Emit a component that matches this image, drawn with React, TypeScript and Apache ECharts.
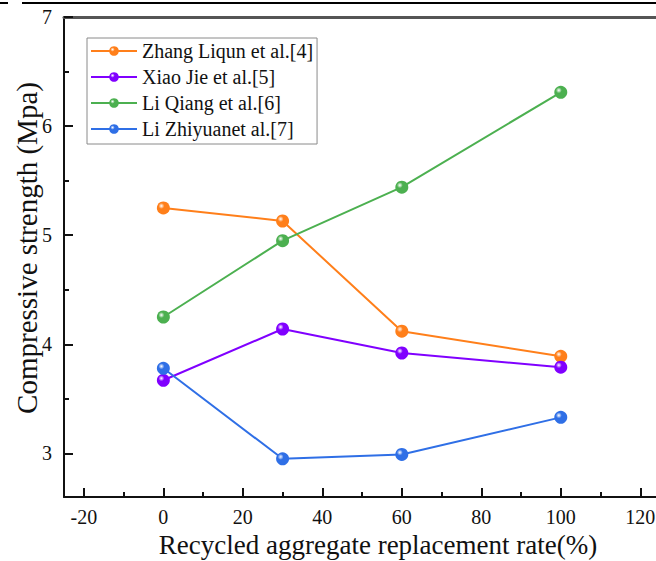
import React, { useEffect, useRef } from "react";
import * as echarts from "echarts";

const xValues = [0, 30, 60, 100];
const seriesNames = [
  "Zhang Liqun et al.[4]",
  "Xiao Jie et al.[5]",
  "Li Qiang et al.[6]",
  "Li Zhiyuanet al.[7]",
];
const zhangValues = [5.25, 5.13, 4.12, 3.89];
const xiaoValues = [3.67, 4.14, 3.92, 3.79];
const qiangValues = [4.25, 4.95, 5.44, 6.31];
const zhiyuanValues = [3.78, 2.95, 2.99, 3.33];
const seriesColors = ["#FF7F1A", "#8000FF", "#4CB050", "#2F6FE6"];

const xMajorTicks = [-20, 0, 20, 40, 60, 80, 100, 120];
const xMinorTicks = [-10, 10, 30, 50, 70, 90, 110];
const yMajorTicks = [3, 4, 5, 6, 7];
const yMinorTicks = [3.5, 4.5, 5.5, 6.5];

const xTitle = "Recycled aggregate replacement rate(%)";
const yTitle = "Compressive strength (Mpa)";

const FONT = "Liberation Serif, Times New Roman, serif";

export default function App() {
  const ref = useRef<HTMLDivElement>(null);
  useEffect(() => {
    if (!ref.current) return;
    const chart = echarts.init(ref.current, undefined, { renderer: "svg" });
    const allValues = [zhangValues, xiaoValues, qiangValues, zhiyuanValues];
    const series = allValues.map((vals, i) => ({
      name: seriesNames[i],
      type: "line",
      xAxisIndex: 0,
      yAxisIndex: 0,
      data: vals.map((v, j) => [xValues[j], v]),
      symbol: "circle",
      symbolSize: 13,
      lineStyle: { width: 2, color: seriesColors[i] },
      itemStyle: {
        color: {
          type: "radial",
          x: 0.35,
          y: 0.35,
          r: 0.75,
          colorStops: [
            { offset: 0, color: "rgba(255,255,255,0.9)" },
            { offset: 0.3, color: seriesColors[i] },
            { offset: 1, color: seriesColors[i] },
          ],
        },
      },
    }));
    chart.setOption({
      animation: false,
      backgroundColor: "#fff",
      textStyle: { fontFamily: FONT },
      grid: { left: 64, top: 17, bottom: 64, width: 616, containLabel: false, outerBoundsMode: "none" },
      legend: {
        orient: "vertical",
        left: 87,
        top: 38,
        itemWidth: 46,
        itemHeight: 12,
        itemGap: 6,
        padding: [3, 4, 5, 3],
        borderColor: "#8a8a8a",
        borderWidth: 1,
        textStyle: { fontFamily: FONT, fontSize: 20, color: "#111", lineHeight: 20 },
        data: seriesNames,
      },
      xAxis: [
        {
          type: "value",
          position: "bottom",
          min: -25,
          max: 130,
          axisLine: { show: true, onZero: false, lineStyle: { color: "#111", width: 2 } },
          axisTick: { show: true, inside: true, length: 9, lineStyle: { color: "#111", width: 2 }, customValues: xMajorTicks },
          axisLabel: { fontFamily: FONT, fontSize: 20, color: "#111", margin: 10, customValues: xMajorTicks },
          splitLine: { show: false },
        },
        {
          type: "value",
          position: "bottom",
          min: -25,
          max: 130,
          axisLine: { show: false, onZero: false },
          axisTick: { show: true, inside: true, length: 5, lineStyle: { color: "#111", width: 2 }, customValues: xMinorTicks },
          axisLabel: { show: false },
          splitLine: { show: false },
        },
        {
          type: "value",
          position: "top",
          min: -25,
          max: 130,
          axisLine: { show: true, onZero: false, lineStyle: { color: "#555", width: 3 } },
          axisTick: { show: false },
          axisLabel: { show: false },
          splitLine: { show: false },
        },
      ],
      yAxis: [
        {
          type: "value",
          position: "left",
          min: 2.6,
          max: 7,
          axisLine: { show: true, onZero: false, lineStyle: { color: "#111", width: 2 } },
          axisTick: { show: true, inside: true, length: 9, lineStyle: { color: "#111", width: 2 }, customValues: yMajorTicks },
          axisLabel: { fontFamily: FONT, fontSize: 20, color: "#111", margin: 12, customValues: yMajorTicks },
          splitLine: { show: false },
        },
        {
          type: "value",
          position: "left",
          min: 2.6,
          max: 7,
          axisLine: { show: false, onZero: false },
          axisTick: { show: true, inside: true, length: 5, lineStyle: { color: "#111", width: 2 }, customValues: yMinorTicks },
          axisLabel: { show: false },
          splitLine: { show: false },
        },
      ],
      graphic: [
        { type: "rect", shape: { x: 0, y: 2, width: 8, height: 2 }, style: { fill: "#000" } },
        { type: "rect", shape: { x: 22, y: 2, width: 680, height: 2 }, style: { fill: "#000" } },
        {
          type: "text",
          x: 378,
          y: 545,
          style: { text: xTitle, font: "27px " + FONT, fill: "#111", align: "center", verticalAlign: "middle" },
        },
        {
          type: "text",
          x: 27,
          y: 248,
          rotation: Math.PI / 2,
          style: { text: yTitle, font: "29px " + FONT, fill: "#111", align: "center", verticalAlign: "middle" },
        },
      ],
      series,
    });
    return () => chart.dispose();
  }, []);
  return (
    <div
      ref={ref}
      style={{ position: "fixed", left: 0, top: 0, width: 700, height: 561, background: "#fff" }}
    />
  );
}
